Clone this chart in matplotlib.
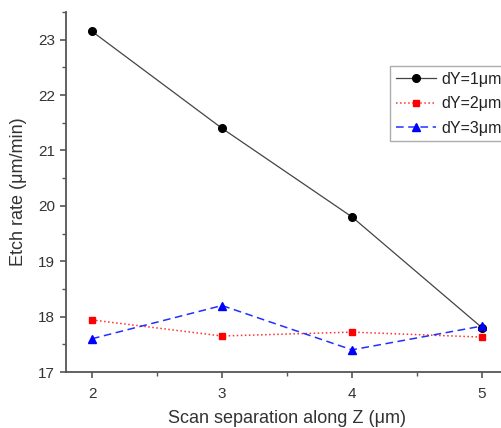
# %% Etch rate vs scan separation along Z, for three dY values

import matplotlib.pyplot as plt
from matplotlib.ticker import MultipleLocator

# %% Data

scan_sep = [2, 3, 4, 5]
rate_dy1 = [23.15, 21.4, 19.8, 17.8]
rate_dy2 = [17.94, 17.65, 17.72, 17.63]
rate_dy3 = [17.6, 18.2, 17.4, 17.83]
labels = ['dY=1\u03bcm', 'dY=2\u03bcm', 'dY=3\u03bcm']

plt.rcParams['font.family'] = ['Liberation Sans', 'DejaVu Sans']

# %% Figure

fig = plt.figure(figsize=(5.01, 4.28), dpi=100)
ax = fig.add_axes([66/501, 56/428, 442/501, 360/428])

ax.plot(scan_sep, rate_dy1, color='#444444', lw=0.9, marker='o', ms=5.5,
        mfc='black', mec='black', label=labels[0])
ax.plot(scan_sep, rate_dy2, color='#ff3030', lw=1.1, ls=':', marker='s', ms=5,
        mfc='red', mec='red', label=labels[1])
ax.plot(scan_sep, rate_dy3, color='#2030ff', lw=1.1, ls=(0, (5, 3)), marker='^', ms=6,
        mfc='blue', mec='blue', label=labels[2])

ax.set_xlim(1.8, 5.2)
ax.set_ylim(17, 23.5)
ax.xaxis.set_major_locator(MultipleLocator(1))
ax.xaxis.set_minor_locator(MultipleLocator(0.5))
ax.yaxis.set_major_locator(MultipleLocator(1))
ax.yaxis.set_minor_locator(MultipleLocator(0.5))

for side in ['top', 'right']:
    ax.spines[side].set_visible(False)
for side in ['left', 'bottom']:
    ax.spines[side].set_color('#555555')
    ax.spines[side].set_linewidth(1.3)

ax.tick_params(which='major', direction='out', length=4.5, width=1.2, colors='#555555',
               labelcolor='#333333', labelsize=11)
ax.tick_params(which='minor', direction='out', length=3, width=1.0, colors='#555555')
ax.tick_params(axis='x', pad=6)

ax.set_xlabel('Scan separation along Z (\u03bcm)', fontsize=13, color='#333333', labelpad=7)
ax.set_ylabel('Etch rate (\u03bcm/min)', fontsize=13, color='#333333', labelpad=8)

leg = ax.legend(loc='upper left', bbox_to_anchor=(390/501, 1 - 66/428),
                bbox_transform=fig.transFigure, fontsize=11.5, frameon=True,
                fancybox=False, edgecolor='#999999', borderpad=0.35,
                labelspacing=0.6, handlelength=2.5, handletextpad=0.35,
                borderaxespad=0)
leg.get_frame().set_linewidth(1.0)
for t in leg.get_texts():
    t.set_color('#222222')

fig.savefig('out.png', dpi=100)
